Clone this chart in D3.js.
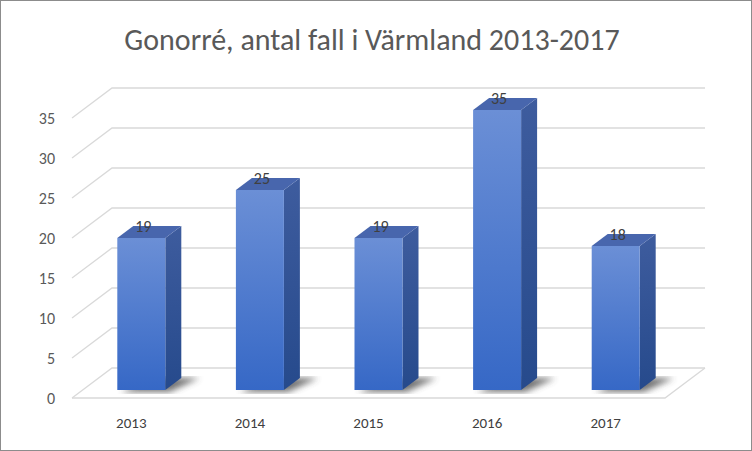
<!DOCTYPE html>
<html><head><meta charset="utf-8">
<script src="https://cdn.jsdelivr.net/npm/d3@7"></script>
<style>body{margin:0;background:#fff}svg{display:block}</style>
</head><body>
<svg width="752" height="451"></svg>
<script>
const years = ["2013", "2014", "2015", "2016", "2017"];
const cases = [19, 25, 19, 35, 18];
const ticks = [0, 5, 10, 15, 20, 25, 30, 35];

const svg = d3.select("svg");
const font = "Calibri, Carlito, 'Liberation Sans', sans-serif";
svg.append("rect").attr("x", 0.5).attr("y", 0.5).attr("width", 751).attr("height", 450)
  .attr("fill", "#fff").attr("stroke", "#8c8c8c");

// 3d offsets
const wallDx = 40, wallDy = -30;
const left = 72, right = 665, floorY = 398;
const x = d3.scaleBand().domain(years).range([left, right]);
const y = d3.scaleLinear().domain([0, 40]).range([floorY, floorY - 320]);

// gridlines: diagonal on the side wall + horizontal on the back wall
const g = svg.append("g").attr("stroke", "#d9d9d9").attr("stroke-width", 1.3).attr("fill", "none");
ticks.forEach(t => {
  g.append("path").attr("d", `M${left},${y(t)}L${left + wallDx},${y(t) + wallDy}L${right + wallDx},${y(t) + wallDy}`);
});
g.append("path").attr("d", `M${left},${floorY}L${right},${floorY}L${right + wallDx},${floorY + wallDy}`);

svg.append("g").selectAll("text").data(ticks).join("text")
  .attr("x", 55).attr("y", d => y(d) + 6).attr("text-anchor", "end")
  .attr("font-family", font).attr("font-size", 16).attr("fill", "#595959").text(d => d);

svg.append("g").selectAll("text").data(years).join("text")
  .attr("x", d => x(d) + x.bandwidth() / 2).attr("y", 428).attr("text-anchor", "middle")
  .attr("font-family", font).attr("font-size", 15).attr("fill", "#404040").text(d => d);

const defs = svg.append("defs");
const gr = defs.append("linearGradient").attr("id", "front").attr("x1", 0).attr("y1", 0).attr("x2", 0).attr("y2", 1);
gr.append("stop").attr("offset", 0).attr("stop-color", "#6b8fd6");
gr.append("stop").attr("offset", 1).attr("stop-color", "#3668c6");
const gs = defs.append("linearGradient").attr("id", "side").attr("x1", 0).attr("y1", 0).attr("x2", 0).attr("y2", 1);
gs.append("stop").attr("offset", 0).attr("stop-color", "#3e5c9e");
gs.append("stop").attr("offset", 1).attr("stop-color", "#264a8c");
defs.append("filter").attr("id", "blur").append("feGaussianBlur").attr("stdDeviation", 3);

const bw = 48, bdx = 16, bdy = -12, offX = 10, offY = -8;
const bars = svg.append("g").selectAll("g").data(years).join("g");
bars.each(function (yr, i) {
  const b = d3.select(this);
  const x0 = x(yr) + x.bandwidth() / 2 - bw / 2 + offX;
  const base = floorY + offY;
  const top = y(cases[i]) + offY;
  // shadow
  b.append("path").attr("d", `M${x0 + 4},${base + 2}L${x0 + bw + 4},${base + 2}L${x0 + bw + 34},${base - 12}L${x0 + 34},${base - 12}Z`)
    .attr("fill", "#444").attr("opacity", 0.75).attr("filter", "url(#blur)");
  b.append("path").attr("d", `M${x0 + bw},${top}L${x0 + bw + bdx},${top + bdy}L${x0 + bw + bdx},${base + bdy}L${x0 + bw},${base}Z`)
    .attr("fill", "url(#side)");
  b.append("path").attr("d", `M${x0},${top}L${x0 + bdx},${top + bdy}L${x0 + bw + bdx},${top + bdy}L${x0 + bw},${top}Z`)
    .attr("fill", "#4866ad");
  b.append("rect").attr("x", x0).attr("y", top).attr("width", bw).attr("height", base - top).attr("fill", "url(#front)");
  b.append("text").attr("x", x0 + bw / 2 + 2).attr("y", top - 6).attr("text-anchor", "middle")
    .attr("font-family", font).attr("font-size", 16).attr("fill", "#404040").text(cases[i]);
});

svg.append("text").attr("x", 372).attr("y", 50).attr("text-anchor", "middle")
  .attr("font-family", font).attr("font-size", 30).attr("fill", "#595959")
  .text("Gonorré, antal fall i Värmland 2013-2017");
</script>
</body></html>
